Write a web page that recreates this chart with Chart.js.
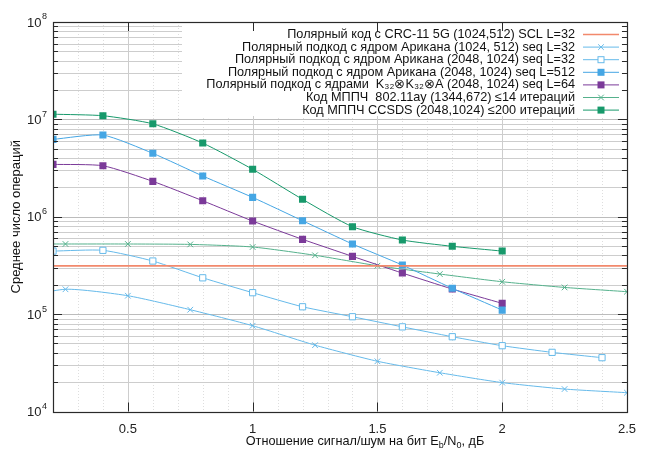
<!DOCTYPE html>
<html>
<head>
<meta charset="utf-8">
<title>Среднее число операций</title>
<script src="https://cdn.jsdelivr.net/npm/chart.js"></script>
<style>
    body { margin: 0; background: #fff; }
</style>
</head>
<body>
<canvas id="opsChart" width="646" height="449"></canvas>
<script>
// Eb/N0, dB
var snrCrc = [0.2, 2.5];
var snrQuarter = [0, 0.25, 0.5, 0.75, 1.0, 1.25, 1.5, 1.75, 2.0, 2.25, 2.5];
var snrFifth = [0.2, 0.4, 0.6, 0.8, 1.0, 1.2, 1.4, 1.6, 1.8, 2.0, 2.2, 2.4];
var snrTo2 = [0.2, 0.4, 0.6, 0.8, 1.0, 1.2, 1.4, 1.6, 1.8, 2.0];

// average number of operations
var crc5g = [3.13e5, 3.13e5];
var arikan1024L32 = [1.35e5, 1.80e5, 1.545e5, 1.11e5, 7.6e4, 4.8e4, 3.28e4, 2.5e4, 1.98e4, 1.70e4, 1.56e4];
var arikan2048L32 = [4.44e5, 4.52e5, 3.51e5, 2.36e5, 1.66e5, 1.19e5, 9.4e4, 7.4e4, 5.86e4, 4.74e4, 4.05e4, 3.57e4];
var arikan2048L512 = [6.23e6, 6.9e6, 4.48e6, 2.62e6, 1.58e6, 9.1e5, 5.25e5, 3.19e5, 1.84e5, 1.10e5];
var kernels2048L64 = [3.45e6, 3.34e6, 2.31e6, 1.46e6, 9.03e5, 5.86e5, 3.92e5, 2.64e5, 1.81e5, 1.29e5];
var ldpc80211ay = [5.25e5, 5.25e5, 5.25e5, 5.2e5, 4.89e5, 4.02e5, 3.14e5, 2.58e5, 2.15e5, 1.88e5, 1.70e5];
var ldpcCcsds = [1.13e7, 1.09e7, 9.0e6, 5.71e6, 3.07e6, 1.51e6, 7.9e5, 5.77e5, 4.97e5, 4.44e5];

var xTicks = [0.5, 1, 1.5, 2, 2.5];
var yTicks = [1e4, 1e5, 1e6, 1e7, 1e8];

var FONT = '"Liberation Sans", Arial, sans-serif';

function pts(xs, ys) {
    return xs.map(function (x, i) { return { x: x, y: ys[i] }; });
}

function line(ctx, x1, y1, x2, y2) {
    ctx.beginPath();
    ctx.moveTo(x1, y1);
    ctx.lineTo(x2, y2);
    ctx.stroke();
}

function marker(ctx, style, x, y, color) {
    ctx.save();
    ctx.strokeStyle = color;
    ctx.fillStyle = color;
    ctx.lineWidth = 1;
    if (style === 'fill') {
        ctx.fillRect(x - 3.5, y - 3.5, 7, 7);
    } else if (style === 'open') {
        ctx.fillStyle = '#fff';
        ctx.fillRect(x - 3, y - 3, 6, 6);
        ctx.strokeRect(x - 3, y - 3, 6, 6);
    } else if (style === 'cross') {
        line(ctx, x - 2.8, y - 2.8, x + 2.8, y + 2.8);
        line(ctx, x - 2.8, y + 2.8, x + 2.8, y - 2.8);
    }
    ctx.restore();
}

var series = [
    { label: 'Полярный код с CRC-11 5G (1024,512) SCL L=32', x: snrCrc, y: crc5g, color: '#f2896c', mark: 'none', width: 1.6 },
    { label: 'Полярный подкод с ядром Арикана (1024, 512) seq L=32', x: snrQuarter, y: arikan1024L32, color: '#66baea', mark: 'cross', width: 1 },
    { label: 'Полярный подкод с ядром Арикана (2048, 1024) seq L=32', x: snrFifth, y: arikan2048L32, color: '#66baea', mark: 'open', width: 1 },
    { label: 'Полярный подкод с ядром Арикана (2048, 1024) seq L=512', x: snrTo2, y: arikan2048L512, color: '#45a6e4', mark: 'fill', width: 1 },
    { label: 'Полярный подкод с ядрами  K\u2083\u2082\u2297K\u2083\u2082\u2297A (2048, 1024) seq L=64', x: snrTo2, y: kernels2048L64, color: '#7b3a99', mark: 'fill', width: 1 },
    { label: 'Код МППЧ  802.11ay (1344,672) \u226414 итераций', x: snrQuarter, y: ldpc80211ay, color: '#55b18c', mark: 'cross', width: 1 },
    { label: 'Код МППЧ CCSDS (2048,1024) \u2264200 итераций', x: snrTo2, y: ldpcCcsds, color: '#17996b', mark: 'fill', width: 1 }
];

var datasets = series.map(function (s) {
    var style = s.mark === 'cross' ? 'crossRot' : 'rect';
    return {
        label: s.label,
        data: pts(s.x, s.y),
        borderColor: s.color,
        backgroundColor: s.mark === 'open' ? '#fff' : s.color,
        borderWidth: s.width,
        pointStyle: style,
        pointRadius: s.mark === 'none' ? 0 : (s.mark === 'cross' ? 4 : (s.mark === 'open' ? 4.4 : 5)),
        pointBorderWidth: s.mark === 'fill' ? 0 : 1,
        pointBorderColor: s.color,
        tension: 0.2
    };
});

var frame = {
    id: 'frame',
    beforeDatasetsDraw: function (chart) {
        var ctx = chart.ctx, a = chart.chartArea, xs = chart.scales.x, ys = chart.scales.y;
        ctx.save();
        ctx.lineWidth = 1;
        // minor vertical grid, dotted
        ctx.strokeStyle = 'rgba(0,0,0,0.13)';
        ctx.setLineDash([1, 2]);
        for (var i = 3; i <= 24; i++) {
            if (i % 5 === 0) continue;
            var px = Math.round(xs.getPixelForValue(i / 10)) + 0.5;
            line(ctx, px, a.top, px, a.bottom);
        }
        ctx.setLineDash([]);
        // horizontal grid at k*10^n
        for (var e = 4; e < 8; e++) {
            for (var k = 1; k <= 9; k++) {
                var v = k * Math.pow(10, e);
                if (v <= 1e4) continue;
                var py = Math.round(ys.getPixelForValue(v)) + 0.5;
                ctx.strokeStyle = k === 1 ? '#bcbcbc' : '#cdcdcd';
                line(ctx, a.left, py, a.right, py);
            }
        }
        // major vertical grid
        ctx.strokeStyle = '#cdcdcd';
        xTicks.forEach(function (t) {
            var px = Math.round(xs.getPixelForValue(t)) + 0.5;
            line(ctx, px, a.top, px, a.bottom);
        });
        ctx.restore();
    },
    afterDatasetsDraw: function (chart) {
        var ctx = chart.ctx, a = chart.chartArea, xs = chart.scales.x, ys = chart.scales.y;
        ctx.save();

        // key, opaque box
        ctx.fillStyle = '#fff';
        ctx.fillRect(182, a.top + 1, a.right - 183, 93);
        ctx.font = '12.7px ' + FONT;
        ctx.textAlign = 'right';
        ctx.textBaseline = 'middle';
        series.forEach(function (s, i) {
            var ry = 34.5 + i * 12.6;
            ctx.fillStyle = '#111';
            ctx.fillText(s.label, 575, ry);
            ctx.strokeStyle = s.color;
            ctx.lineWidth = s.width;
            line(ctx, 583, ry, 619, ry);
            marker(ctx, s.mark, 601, ry, s.color);
        });

        // border
        ctx.strokeStyle = '#2a2a2a';
        ctx.lineWidth = 1.2;
        ctx.strokeRect(Math.round(a.left) + 0.5, Math.round(a.top) + 0.5,
            Math.round(a.right) - Math.round(a.left), Math.round(a.bottom) - Math.round(a.top));

        // inward ticks, mirrored
        ctx.lineWidth = 1;
        for (var e = 4; e < 8; e++) {
            for (var k = 1; k <= 9; k++) {
                var v = k * Math.pow(10, e);
                var py = Math.round(ys.getPixelForValue(v)) + 0.5;
                var len = k === 1 ? 9 : 5;
                line(ctx, a.left, py, a.left + len, py);
                line(ctx, a.right, py, a.right - len, py);
            }
        }
        xTicks.forEach(function (t) {
            var px = Math.round(xs.getPixelForValue(t)) + 0.5;
            line(ctx, px, a.bottom, px, a.bottom - 9);
            line(ctx, px, a.top, px, a.top + 9);
        });

        // y tick labels 10^n
        ctx.fillStyle = '#222';
        ctx.textBaseline = 'middle';
        yTicks.forEach(function (t) {
            var py = ys.getPixelForValue(t);
            var ex = String(Math.round(Math.log10(t)));
            ctx.font = '9px ' + FONT;
            ctx.textAlign = 'right';
            ctx.fillText(ex, 47, py - 5);
            var w = ctx.measureText(ex).width;
            ctx.font = '13px ' + FONT;
            ctx.fillText('10', 47 - w - 0.5, py + 1);
        });

        // x axis title with subscripts
        var parts = [['Отношение сигнал/шум на бит E', 0], ['b', 1], ['/N', 0], ['0', 1], [', дБ', 0]];
        var total = 0;
        parts.forEach(function (p) {
            ctx.font = (p[1] ? '9px ' : '12.7px ') + FONT;
            total += ctx.measureText(p[0]).width;
        });
        var tx = 365 - total / 2;
        ctx.textAlign = 'left';
        ctx.textBaseline = 'alphabetic';
        ctx.fillStyle = '#111';
        parts.forEach(function (p) {
            ctx.font = (p[1] ? '9px ' : '12.7px ') + FONT;
            ctx.fillText(p[0], tx, p[1] ? 448 : 445);
            tx += ctx.measureText(p[0]).width;
        });
        ctx.restore();
    }
};

var ctx = document.getElementById('opsChart').getContext('2d');
var opsChart = new Chart(ctx, {
    type: 'line',
    data: { datasets: datasets },
    options: {
        responsive: false,
        animation: false,
        layout: { padding: { top: 22, right: 11, left: 0, bottom: 0 } },
        plugins: {
            legend: { display: false },
            tooltip: { enabled: false }
        },
        scales: {
            x: {
                type: 'linear',
                min: 0.2,
                max: 2.5,
                afterBuildTicks: function (s) {
                    s.ticks = xTicks.map(function (v) { return { value: v }; });
                },
                afterFit: function (s) { s.height = 37.5; },
                ticks: {
                    color: '#222',
                    padding: 10,
                    maxRotation: 0,
                    font: { family: FONT, size: 13 },
                    callback: function (v) { return String(v); }
                },
                grid: { display: false, drawTicks: false },
                border: { display: false }
            },
            y: {
                type: 'logarithmic',
                min: 1e4,
                max: 1e8,
                afterBuildTicks: function (s) {
                    s.ticks = yTicks.map(function (v) { return { value: v }; });
                },
                afterFit: function (s) { s.width = 53; },
                ticks: { display: false },
                grid: { display: false, drawTicks: false },
                border: { display: false },
                title: {
                    display: true,
                    text: 'Среднее число операций',
                    color: '#111',
                    font: { family: FONT, size: 13 },
                    padding: { top: 9, bottom: 0 }
                }
            }
        }
    },
    plugins: [frame]
});
</script>
</body>
</html>
